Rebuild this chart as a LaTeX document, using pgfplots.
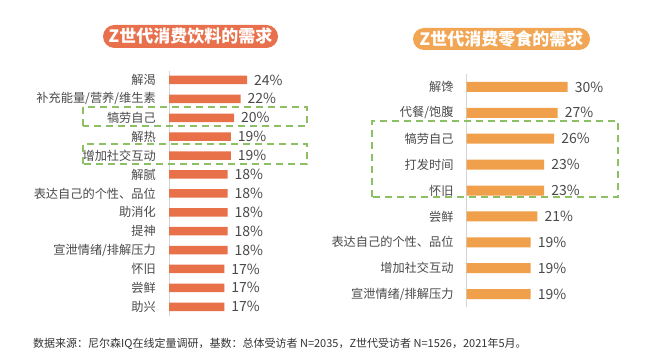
\documentclass[border=0pt]{standalone}
\usepackage{fontspec}
\usepackage{pgfplots}
\pgfplotsset{compat=1.18}
\setmainfont{Noto Sans CJK SC}
\definecolor{barL}{HTML}{E8714A}
\definecolor{barR}{HTML}{F0A04B}
\definecolor{ttlL}{HTML}{E8704C}
\definecolor{ttlR}{HTML}{F2A552}
\definecolor{txt}{HTML}{4A4A4A}
\definecolor{grn}{HTML}{8CC063}
\definecolor{axg}{HTML}{D4D4D4}
\begin{document}
\begin{tikzpicture}[x=1pt,y=1pt]
\fill[white] (0,0) rectangle (650,359);
\path[use as bounding box] (0,0) rectangle (650,359);
% titles
\node[fill=ttlL, rounded corners=11.5pt, minimum width=175pt, minimum height=23pt, inner sep=0pt, text=white, font=\fontsize{17}{17}\selectfont\bfseries] at (190.5,322.5) {Z世代消费饮料的需求};
\node[fill=ttlR, rounded corners=11pt, minimum width=177pt, minimum height=22pt, inner sep=0pt, text=white, font=\fontsize{17}{17}\selectfont\bfseries] at (501.5,320) {Z世代消费零食的需求};

\pgfplotsset{
  mybars/.style={
    scale only axis, anchor=south west,
    xmin=0, xmax=30, y dir=reverse,
    xbar, axis x line=none, axis y line*=left,
    axis line style={-, draw=axg, line width=0.8pt},
    major tick length=0pt,
    yticklabel style={inner sep=0pt, xshift=-13pt, text=txt, font=\fontsize{12.2}{12.2}\selectfont},
    /pgf/number format/assume math mode=true,
    point meta=x,
    nodes near coords={\pgfmathprintnumber{\pgfplotspointmeta}\%},
    nodes near coords style={anchor=west, inner sep=0pt, xshift=7pt, text=txt, font=\fontsize{14}{14}\selectfont},
    clip=false,
  }
}

\begin{axis}[mybars, at={(169pt,42.8pt)}, width=97.5pt, height=245.7pt,
  ymin=-0.5, ymax=12.5, bar width=8.5pt,
  ytick={0,...,12},
  yticklabels={解渴,补充能量/营养/维生素,犒劳自己,解热,增加社交互动,解腻,表达自己的个性、品位,助消化,提神,宣泄情绪/排解压力,怀旧,尝鲜,助兴}]
\addplot[fill=barL, draw=none] coordinates {(24,0) (22,1) (20,2) (19,3) (19,4) (18,5) (18,6) (18,7) (18,8) (18,9) (17,10) (17,11) (17,12)};
\end{axis}

\begin{axis}[mybars, at={(466.7pt,52pt)}, width=101pt, height=233pt,
  ymin=-0.5, ymax=8.5, bar width=10pt,
  ytick={0,...,8},
  yticklabels={解馋,代餐/饱腹,犒劳自己,打发时间,怀旧,尝鲜,表达自己的个性、品位,增加社交互动,宣泄情绪/排解压力}]
\addplot[fill=barR, draw=none] coordinates {(30,0) (27,1) (26,2) (23,3) (23,4) (21,5) (19,6) (19,7) (19,8)};
\end{axis}

% highlight boxes
\begin{scope}[draw=grn, line width=1.3pt, dash pattern=on 7pt off 5pt]
\draw (83,233) rectangle (307,252);
\draw (83,195) rectangle (307,215);
\draw (372,162) rectangle (618,238);
\end{scope}

\node[anchor=west, inner sep=0pt, text=black!80, font=\fontsize{11}{11}\selectfont] at (33,15) {数据来源：尼尔森IQ在线定量调研，基数：总体受访者 N=2035，Z世代受访者 N=1526，2021年5月。};
\end{tikzpicture}
\end{document}
